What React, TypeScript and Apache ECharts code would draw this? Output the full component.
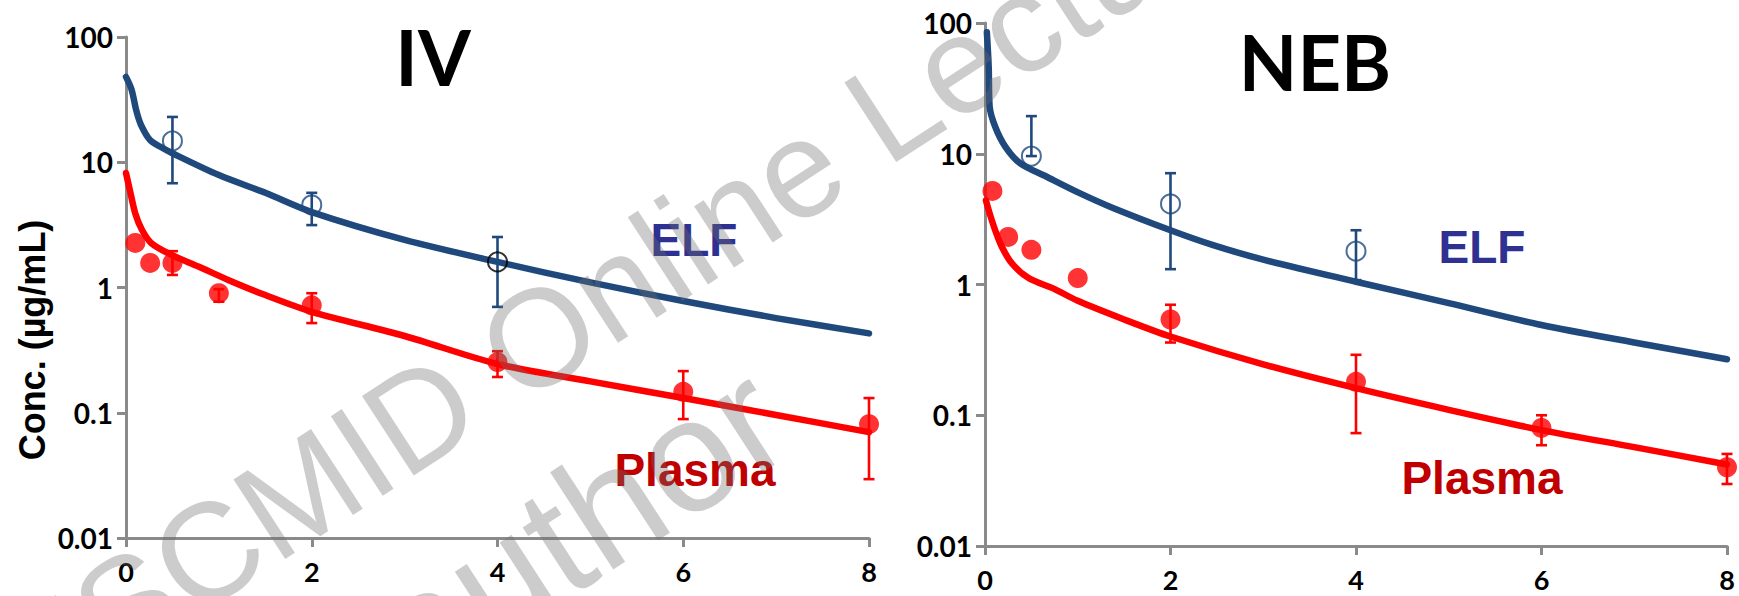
import React, { useEffect, useRef } from "react";
import * as echarts from "echarts";

// ---------- tick labels ----------
const xTickLabels = ["0", "2", "4", "6", "8"];
const yTickLabels = ["0.01", "0.1", "1", "10", "100"];

// ---------- IV panel ----------
const ivElfCurveT = [0, 0.06, 0.11, 0.16, 0.26, 0.37, 0.5, 1, 1.5, 2, 3, 4, 5, 6, 7, 8];
const ivElfCurveC = [48, 38, 26, 20, 15, 13.3, 11.8, 7.9, 5.7, 4.0, 2.4, 1.6, 1.1, 0.78, 0.57, 0.43];
const ivPlasmaCurveT = [0, 0.05, 0.1, 0.17, 0.27, 0.49, 0.78, 1.1, 1.5, 2, 3, 4, 5, 6, 7, 8];
const ivPlasmaCurveC = [8.2, 5.6, 3.9, 2.9, 2.27, 1.82, 1.47, 1.15, 0.87, 0.64, 0.41, 0.245, 0.178, 0.131, 0.096, 0.07];

const ivElfT = [0.5, 2, 4];
const ivElfC = [14.8, 4.56, 1.6];
const ivElfLo = [6.8, 3.15, 0.7];
const ivElfHi = [23, 5.7, 2.53];

const ivPlasmaT = [0.1, 0.26, 0.5, 1, 2, 4, 6, 8];
const ivPlasmaC = [2.27, 1.57, 1.57, 0.9, 0.72, 0.254, 0.147, 0.081];
const ivPlasmaLo = [null, null, 1.26, 0.77, 0.52, 0.193, 0.089, 0.0295];
const ivPlasmaHi = [null, null, 1.95, 0.97, 0.9, 0.31, 0.215, 0.131];

// ---------- NEB panel ----------
const nebElfCurveT = [0.02, 0.04, 0.05, 0.11, 0.22, 0.38, 0.66, 1.02, 1.38, 2, 2.46, 3, 4, 5, 6, 7, 8];
const nebElfCurveC = [85, 46, 23, 16.1, 11.3, 8.45, 6.7, 5.0, 3.85, 2.6, 2.0, 1.55, 1.05, 0.72, 0.49, 0.36, 0.268];
const nebPlasmaCurveT = [0.01, 0.05, 0.11, 0.18, 0.29, 0.47, 0.74, 1.0, 1.5, 2, 3, 4, 5, 6, 7, 8];
const nebPlasmaCurveC = [4.4, 3.5, 2.6, 1.95, 1.45, 1.12, 0.93, 0.75, 0.54, 0.4, 0.245, 0.161, 0.11, 0.077, 0.057, 0.042];

const nebElfT = [0.5, 2, 4];
const nebElfC = [9.6, 4.13, 1.8];
const nebElfLo = [9.6, 1.31, 1.08];
const nebElfHi = [19.4, 7.1, 2.6];

const nebPlasmaT = [0.08, 0.25, 0.5, 1, 2, 4, 6, 8];
const nebPlasmaC = [5.2, 2.31, 1.84, 1.12, 0.54, 0.18, 0.08, 0.04];
const nebPlasmaLo = [null, null, null, null, 0.36, 0.073, 0.059, 0.0298];
const nebPlasmaHi = [null, null, null, null, 0.7, 0.29, 0.1, 0.0506];

// ---------- styling ----------
const ELF_LINE = "#1F497D";
const PLASMA_LINE = "#FF0000";
const AXIS_GRAY = "#8A8A8A";
const TICK_FONT = "Lato";

const zip = (a: number[], b: number[]) => a.map((v, i) => [v, b[i]]);
const errData = (t: number[], lo: (number | null)[], hi: (number | null)[]) =>
  t
    .map((v, i) => [v, lo[i], hi[i]])
    .filter((d) => d[1] != null && d[2] != null);

function errorBarSeries(idx: number, data: any[], color: string) {
  return {
    type: "custom",
    xAxisIndex: idx,
    yAxisIndex: idx,
    data,
    encode: { x: 0, y: [1, 2] },
    z: 3,
    silent: true,
    renderItem: (params: any, api: any) => {
      const t = api.value(0);
      const top = api.coord([t, api.value(2)]);
      const bot = api.coord([t, api.value(1)]);
      const w = 5.5;
      const style = { stroke: color, lineWidth: 2.6 };
      return {
        type: "group",
        children: [
          { type: "line", shape: { x1: top[0], y1: top[1], x2: bot[0], y2: bot[1] }, style },
          { type: "line", shape: { x1: top[0] - w, y1: top[1], x2: top[0] + w, y2: top[1] }, style },
          { type: "line", shape: { x1: bot[0] - w, y1: bot[1], x2: bot[0] + w, y2: bot[1] }, style },
        ],
      };
    },
  };
}

function yLabel(v: number) {
  const e = Math.round(Math.log10(v));
  return yTickLabels[e + 2] ?? "";
}

function xLabel(v: number) {
  const i = Math.round(v / 2);
  return xTickLabels[i] ?? "";
}

function buildOption() {
  const grids = [
    { left: 126, top: 37, width: 743, height: 501 },
    { left: 985, top: 23, width: 742, height: 523 },
  ];
  const xAxes = grids.map((_, i) => ({
    type: "value",
    gridIndex: i,
    min: 0,
    max: 8,
    interval: 2,
    axisLine: { show: true, lineStyle: { color: AXIS_GRAY, width: 3 } },
    axisTick: { show: true, inside: false, length: 9, lineStyle: { color: AXIS_GRAY, width: 3 } },
    splitLine: { show: false },
    axisLabel: {
      margin: 20,
      color: "#000",
      fontFamily: TICK_FONT,
      fontWeight: "bold",
      fontSize: 27,
      formatter: xLabel,
    },
  }));
  const yAxes = grids.map((_, i) => ({
    type: "log",
    logBase: 10,
    gridIndex: i,
    min: 0.01,
    max: 100,
    axisLine: { show: true, lineStyle: { color: AXIS_GRAY, width: 3 } },
    axisTick: { show: true, inside: false, length: 9, lineStyle: { color: AXIS_GRAY, width: 3 } },
    splitLine: { show: false },
    minorTick: { show: false },
    axisLabel: {
      margin: 13,
      color: "#000",
      fontFamily: TICK_FONT,
      fontWeight: "bold",
      fontSize: 28,
      padding: [7, 0, 0, 0],
      formatter: yLabel,
    },
  }));

  const lineSeries = (idx: number, t: number[], c: number[], color: string) => ({
    type: "line",
    xAxisIndex: idx,
    yAxisIndex: idx,
    data: zip(t, c),
    symbol: "none",
    showSymbol: false,
    smooth: 0.3,
    lineStyle: { color, width: 6.5, cap: "round", join: "round" },
    z: 2,
    silent: true,
  });

  const hollow = (idx: number, t: number[], c: number[], blackIdx: number) => ({
    type: "scatter",
    xAxisIndex: idx,
    yAxisIndex: idx,
    symbol: "circle",
    symbolSize: 19,
    data: zip(t, c).map((d, i) =>
      i === blackIdx
        ? { value: d, itemStyle: { borderColor: "#000" } }
        : { value: d }
    ),
    itemStyle: { color: "rgba(255,255,255,0)", borderColor: ELF_LINE, borderWidth: 2 },
    z: 4,
    silent: true,
  });

  const filled = (idx: number, t: number[], c: number[]) => ({
    type: "scatter",
    xAxisIndex: idx,
    yAxisIndex: idx,
    symbol: "circle",
    symbolSize: 20,
    data: zip(t, c),
    itemStyle: { color: PLASMA_LINE },
    z: 4,
    silent: true,
  });

  const series = [
    lineSeries(0, ivElfCurveT, ivElfCurveC, ELF_LINE),
    lineSeries(0, ivPlasmaCurveT, ivPlasmaCurveC, PLASMA_LINE),
    errorBarSeries(0, errData(ivElfT, ivElfLo, ivElfHi), ELF_LINE),
    errorBarSeries(0, errData(ivPlasmaT, ivPlasmaLo, ivPlasmaHi), PLASMA_LINE),
    hollow(0, ivElfT, ivElfC, 2),
    filled(0, ivPlasmaT, ivPlasmaC),
    lineSeries(1, nebElfCurveT, nebElfCurveC, ELF_LINE),
    lineSeries(1, nebPlasmaCurveT, nebPlasmaCurveC, PLASMA_LINE),
    errorBarSeries(1, errData(nebElfT, nebElfLo, nebElfHi), ELF_LINE),
    errorBarSeries(1, errData(nebPlasmaT, nebPlasmaLo, nebPlasmaHi), PLASMA_LINE),
    hollow(1, nebElfT, nebElfC, -1),
    filled(1, nebPlasmaT, nebPlasmaC),
  ];

  const labelText = (x: number, y: number, text: string, fill: string, size: number, family: string) => ({
    type: "text",
    x,
    y,
    silent: true,
    style: {
      text,
      fill,
      fontSize: size,
      fontWeight: "bold",
      fontFamily: family,
      align: "center",
      verticalAlign: "middle",
    },
  });

  const wmAngle = (33 * Math.PI) / 180;
  const wmFill = "rgba(110,110,110,0.35)";
  const graphic = [
    labelText(433, 56, "IV", "#000", 76, "Lato"),
    labelText(1315, 61, "NEB", "#000", 76, "Lato"),
    labelText(694, 240, "ELF", "#2E3192", 46, "Liberation Sans"),
    labelText(695, 470, "Plasma", "#C00000", 46, "Liberation Sans"),
    labelText(1482, 247, "ELF", "#2E3192", 46, "Liberation Sans"),
    labelText(1482, 478, "Plasma", "#C00000", 46, "Liberation Sans"),
    {
      type: "text",
      x: 32,
      y: 340,
      rotation: Math.PI / 2,
      silent: true,
      style: {
        text: "Conc. (µg/mL)",
        fill: "#000",
        fontSize: 36,
        fontWeight: "bold",
        fontFamily: "Liberation Sans",
        align: "center",
        verticalAlign: "middle",
      },
    },
    {
      type: "text",
      x: -106,
      y: 756,
      rotation: wmAngle,
      silent: true,
      z: 100,
      style: {
        text: "© ESCMID Online Lecture Library",
        fill: wmFill,
        fontSize: 138,
        fontFamily: "Liberation Sans",
        align: "left",
        verticalAlign: "middle",
      },
    },
    {
      type: "text",
      x: 72,
      y: 855,
      rotation: wmAngle,
      silent: true,
      z: 100,
      style: {
        text: "© by author",
        fill: wmFill,
        fontSize: 160,
        fontFamily: "Liberation Sans",
        align: "left",
        verticalAlign: "middle",
      },
    },
  ];

  return {
    animation: false,
    backgroundColor: "#ffffff",
    grid: grids,
    xAxis: xAxes,
    yAxis: yAxes,
    series,
    graphic,
  };
}

export default function App() {
  const ref = useRef<HTMLDivElement>(null);
  useEffect(() => {
    if (!ref.current) return;
    const chart = echarts.init(ref.current, undefined, { renderer: "svg" });
    chart.setOption(buildOption() as any);
    return () => chart.dispose();
  }, []);
  return (
    <div
      ref={ref}
      style={{ position: "absolute", left: 0, top: 0, width: 1739, height: 596 }}
    />
  );
}
